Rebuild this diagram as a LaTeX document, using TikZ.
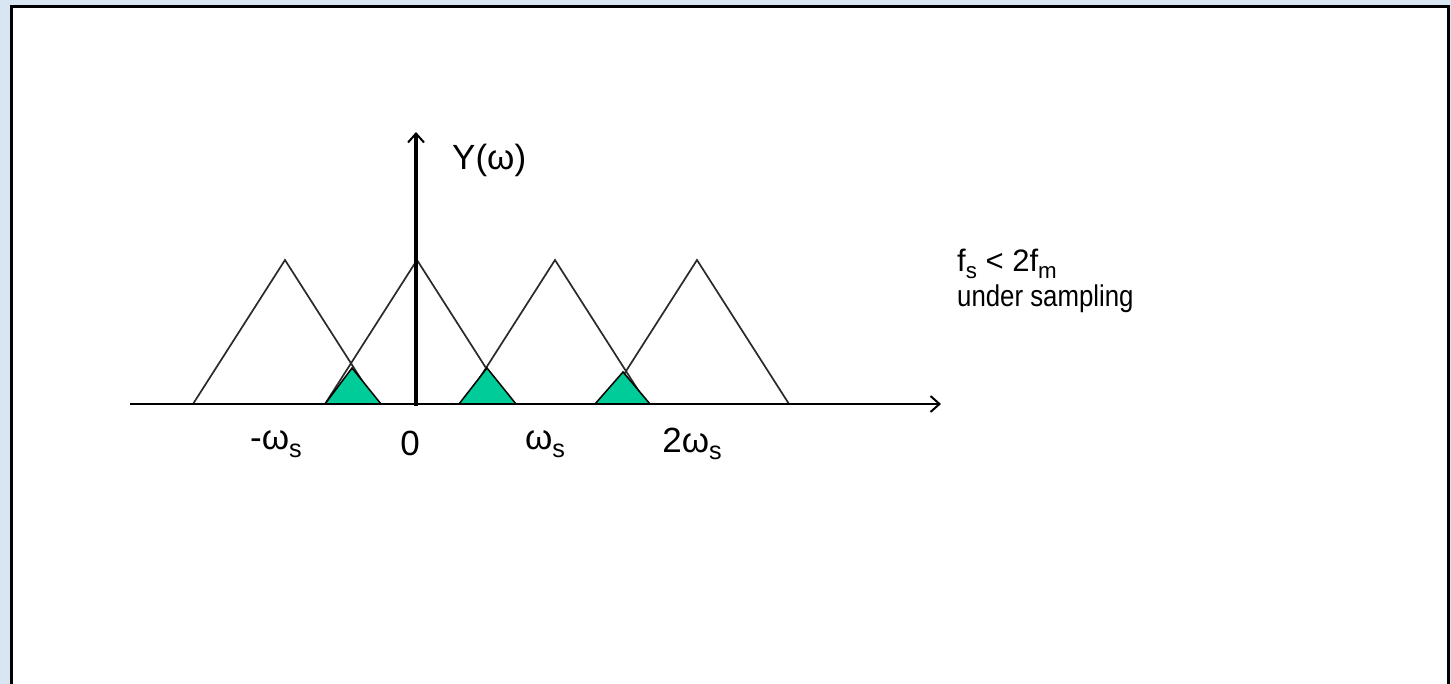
\documentclass[tikz,border=0pt]{standalone}
\usepackage{fontspec}
\setmainfont{Liberation Sans}
\usetikzlibrary{arrows.meta}
\definecolor{bgblue}{HTML}{D8E6F4}
\definecolor{tealgreen}{HTML}{00CC99}
\definecolor{specgray}{HTML}{2A2A2A}
\newcommand\mysub[1]{\raisebox{-0.22em}{\scalebox{0.72}{#1}}}
\tikzset{
  spectrum/.style={draw=specgray, line width=1.7pt, line join=miter},
  alias/.style={draw=black, fill=tealgreen, line width=1.5pt, line join=miter},
  lbl/.style={inner sep=0pt, font=\fontsize{35}{40}\selectfont},
  rtext/.style={inner sep=0pt, font=\fontsize{30}{34}\selectfont, xscale=0.86},
  ctext/.style={inner sep=0pt, font=\fontsize{31}{36}\selectfont},
  axisline/.style={line width=2pt, -{Straight Barb[length=9pt,width=16pt,line width=2pt]}},
}
\begin{document}
\begin{tikzpicture}[x=1pt,y=-1pt]
\useasboundingbox (0,0) rectangle (1451,684);
\fill[bgblue] (0,0) rectangle (1451,684);
\draw[line width=3pt, fill=white] (11,7) rectangle (1448,700);
% spectrum triangles
\draw[spectrum] (193,404) -- (285,260) -- (377,404);
\draw[spectrum] (325,404) -- (417,260) -- (509,404);
\draw[spectrum] (463,404) -- (555,260) -- (647,404);
\draw[spectrum] (605,404) -- (697,260) -- (789,404);
% aliasing overlaps
\draw[alias] (325,404) -- (352,368) -- (381,404) -- cycle;
\draw[alias] (459,404) -- (487,368) -- (516,404) -- cycle;
\draw[alias] (595,404) -- (623,372) -- (650,404) -- cycle;
% axes
\coordinate (xs) at (130,404);
\coordinate (xe) at (941,404);
\coordinate (ys) at (416,406);
\coordinate (ye) at (416,132);
\draw[axisline] (xs) -- (xe);
\draw[axisline, line width=4pt] (ys) -- (ye);
% labels
\node[lbl, anchor=west] (ylab) at (452,160) {Y(ω)};
\node[lbl] (lm) at (276,444) {-ω\mysub{s}};
\node[lbl] (l0) at (410,443) {0};
\node[lbl] (l1) at (545,444) {ω\mysub{s}};
\node[lbl] (l2) at (692,444) {2ω\mysub{s}};
\node[ctext, anchor=west] (cond) at (957,264) {f\mysub{s} < 2f\mysub{m}};
\node[rtext, anchor=west] (us) at (957,299) {under sampling};
\end{tikzpicture}
\end{document}
